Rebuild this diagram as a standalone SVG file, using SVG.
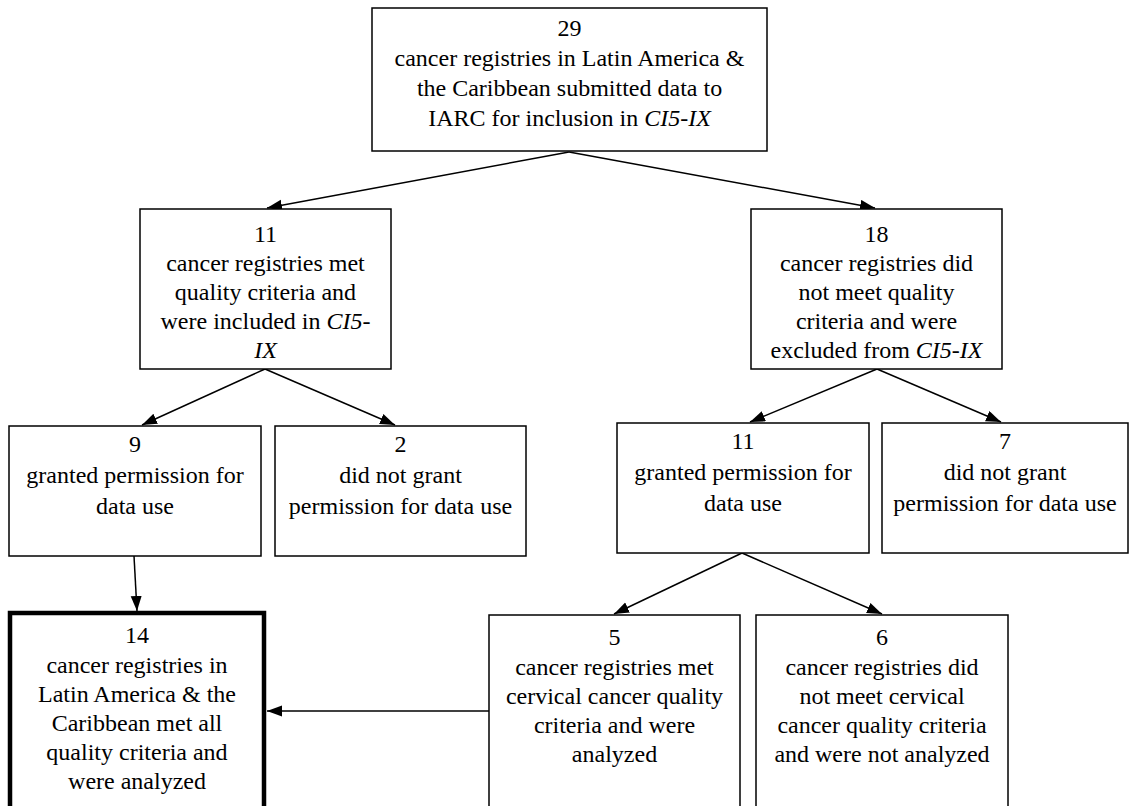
<svg xmlns="http://www.w3.org/2000/svg" width="1136" height="806" viewBox="0 0 1136 806">
<defs>
<style>
.box{fill:#fff;stroke:#000;stroke-width:1.5}
.thick{fill:#fff;stroke:#000;stroke-width:4.5}
.t{font-family:'Liberation Serif','DejaVu Serif',serif;font-size:24px;fill:#000;text-anchor:middle}
.i{font-style:italic}
.c{fill:none;stroke:#000;stroke-width:1.5}
</style>
<marker id="ah" markerUnits="userSpaceOnUse" markerWidth="16" markerHeight="12" refX="15" refY="5.5" orient="auto" viewBox="0 0 16 12">
<path d="M0,0 L15,5.5 L0,11 z" fill="#000"/>
</marker>
</defs>
<rect width="1136" height="806" fill="#fff"/>
<g id="connectors">
<line class="c" x1="569" y1="152" x2="267" y2="208" marker-end="url(#ah)"/>
<line class="c" x1="569" y1="152" x2="875" y2="208" marker-end="url(#ah)"/>
<line class="c" x1="265" y1="369" x2="142" y2="425" marker-end="url(#ah)"/>
<line class="c" x1="265" y1="369" x2="395" y2="425" marker-end="url(#ah)"/>
<line class="c" x1="877" y1="369" x2="750" y2="422" marker-end="url(#ah)"/>
<line class="c" x1="877" y1="369" x2="1001" y2="422" marker-end="url(#ah)"/>
<line class="c" x1="134" y1="556" x2="137" y2="611" marker-end="url(#ah)"/>
<line class="c" x1="742" y1="553" x2="614" y2="614" marker-end="url(#ah)"/>
<line class="c" x1="742" y1="553" x2="882" y2="614" marker-end="url(#ah)"/>
<line class="c" x1="489" y1="711" x2="267" y2="711" marker-end="url(#ah)"/>
</g>
<g id="n29">
<rect class="box" x="372" y="8" width="395" height="143"/>
<text class="t" x="569.5" y="36">29</text>
<text class="t" x="569.5" y="66">cancer registries in Latin America &amp;</text>
<text class="t" x="569.5" y="96">the Caribbean submitted data to</text>
<text class="t" x="569.5" y="126">IARC for inclusion in <tspan class="i">CI5-IX</tspan></text>
</g>
<g id="n11a">
<rect class="box" x="140" y="209" width="251" height="160"/>
<text class="t" x="265.5" y="242">11</text>
<text class="t" x="265.5" y="271">cancer registries met</text>
<text class="t" x="265.5" y="300">quality criteria and</text>
<text class="t" x="265.5" y="329">were included in <tspan class="i">CI5-</tspan></text>
<text class="t i" x="265.5" y="358">IX</text>
</g>
<g id="n18">
<rect class="box" x="751" y="209" width="251" height="160"/>
<text class="t" x="876.5" y="242">18</text>
<text class="t" x="876.5" y="271">cancer registries did</text>
<text class="t" x="876.5" y="300">not meet quality</text>
<text class="t" x="876.5" y="329">criteria and were</text>
<text class="t" x="876.5" y="358">excluded from <tspan class="i">CI5-IX</tspan></text>
</g>
<g id="n9">
<rect class="box" x="9" y="426" width="252" height="130"/>
<text class="t" x="135" y="452">9</text>
<text class="t" x="135" y="483">granted permission for</text>
<text class="t" x="135" y="514">data use</text>
</g>
<g id="n2">
<rect class="box" x="275" y="426" width="251" height="130"/>
<text class="t" x="400.5" y="452">2</text>
<text class="t" x="400.5" y="483">did not grant</text>
<text class="t" x="400.5" y="514">permission for data use</text>
</g>
<g id="n11b">
<rect class="box" x="617" y="423" width="252" height="130"/>
<text class="t" x="743" y="449">11</text>
<text class="t" x="743" y="480">granted permission for</text>
<text class="t" x="743" y="511">data use</text>
</g>
<g id="n7">
<rect class="box" x="882" y="423" width="246" height="130"/>
<text class="t" x="1005" y="449">7</text>
<text class="t" x="1005" y="480">did not grant</text>
<text class="t" x="1005" y="511">permission for data use</text>
</g>
<g id="n14">
<rect class="thick" x="10" y="613" width="254" height="200"/>
<text class="t" x="137" y="643">14</text>
<text class="t" x="137" y="673">cancer registries in</text>
<text class="t" x="137" y="702">Latin America &amp; the</text>
<text class="t" x="137" y="731">Caribbean met all</text>
<text class="t" x="137" y="760">quality criteria and</text>
<text class="t" x="137" y="789">were analyzed</text>
</g>
<g id="n5">
<rect class="box" x="489" y="615" width="251" height="200"/>
<text class="t" x="614.5" y="645">5</text>
<text class="t" x="614.5" y="675">cancer registries met</text>
<text class="t" x="614.5" y="704">cervical cancer quality</text>
<text class="t" x="614.5" y="733">criteria and were</text>
<text class="t" x="614.5" y="762">analyzed</text>
</g>
<g id="n6">
<rect class="box" x="756" y="615" width="252" height="200"/>
<text class="t" x="882" y="645">6</text>
<text class="t" x="882" y="675">cancer registries did</text>
<text class="t" x="882" y="704">not meet cervical</text>
<text class="t" x="882" y="733">cancer quality criteria</text>
<text class="t" x="882" y="762">and were not analyzed</text>
</g>
</svg>
